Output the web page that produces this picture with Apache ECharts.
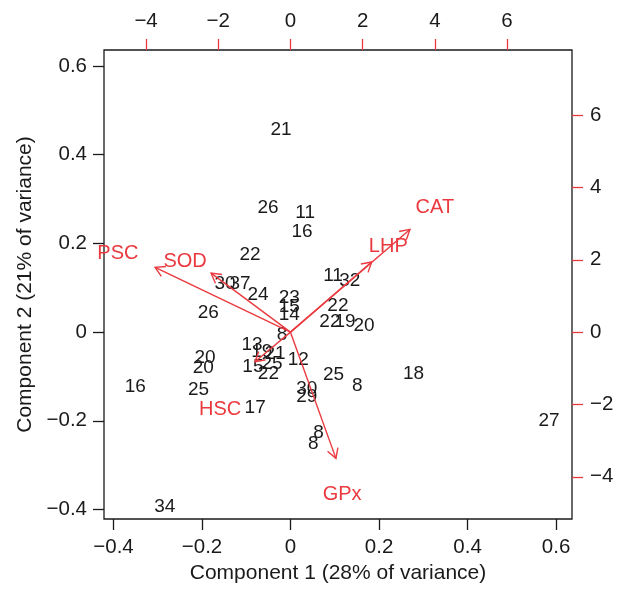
<!DOCTYPE html>
<html>
<head>
<meta charset="utf-8">
<script src="https://cdn.jsdelivr.net/npm/echarts@6/dist/echarts.min.js"></script>
<style>html,body{margin:0;padding:0;background:#fff;}#c{width:618px;height:593px;}</style>
</head>
<body>
<div id="c"></div>
<script>
// Observation scores (Component 1, Component 2)
const pointIds = ['21','26','11','16','22','30','37','24','23','15','14','8','26','11','32','22','22','19','20','13','19','21','15','25','22','12','25','8','18','30','29','17','8','8','27','20','20','16','25','34'];
const comp1 = [-0.0215,-0.051,0.033,0.026,-0.0915,-0.148,-0.114,-0.0734,-0.003,-0.003,-0.003,-0.019,-0.186,0.096,0.134,0.107,0.089,0.123,0.166,-0.087,-0.065,-0.035,-0.085,-0.042,-0.050,0.0176,0.097,0.151,0.278,0.0366,0.0366,-0.080,0.063,0.0516,0.584,-0.193,-0.197,-0.351,-0.208,-0.284];
const comp2 = [0.4555,0.280,0.268,0.2255,0.174,0.110,0.110,0.083,0.077,0.057,0.038,-0.005,0.043,0.127,0.116,0.059,0.023,0.023,0.0135,-0.029,-0.044,-0.048,-0.078,-0.071,-0.093,-0.063,-0.097,-0.122,-0.095,-0.127,-0.147,-0.170,-0.228,-0.251,-0.2007,-0.059,-0.0796,-0.123,-0.131,-0.394];
// Variable loadings (arrow tips, secondary axes) and label anchors
const varNames = ['PSC','SOD','LHP','CAT','HSC','GPx'];
const loadX = [-3.75,-2.2,2.25,3.31,-0.983,1.26];
const loadY = [1.79,1.63,1.94,2.84,-0.82,-3.49];
const labelX = [-4.78,-2.92,2.71,4.0,-1.95,1.43];
const labelY = [2.18,1.94,2.36,3.46,-2.13,-4.48];
// Tick values
const primaryTicks = [-0.4,-0.2,0,0.2,0.4,0.6];
const secondaryTicks = [-4,-2,0,2,4,6];

const RED = '#ea3a3f';
const INK = '#1a1a1a';
const FONT = 'Liberation Sans, Arial, Helvetica, sans-serif';
const fmt = v => (Math.abs(v) < 1e-9 ? '0' : String(v).replace('-', '\u2212'));

const chart = echarts.init(document.getElementById('c'), null, {renderer: 'canvas'});

function primaryAxis(pos, isX) {
  return {
    type: 'value', position: pos, min: -0.4215, max: 0.636,
    splitLine: {show: false},
    axisLine: {show: false, onZero: false},
    axisTick: {show: true, length: 11, inside: false, customValues: primaryTicks, lineStyle: {color: INK, width: 1.3}},
    axisLabel: {show: true, customValues: primaryTicks, formatter: fmt, color: INK, fontSize: 20.5, fontFamily: FONT, margin: isX ? 18 : 17},
    name: isX ? 'Component 1 (28% of variance)' : 'Component 2 (21% of variance)',
    nameLocation: 'middle', nameGap: isX ? 42 : 66,
    nameTextStyle: {color: INK, fontSize: 21, fontFamily: FONT}
  };
}
function secondaryAxis(pos) {
  return {
    type: 'value', position: pos, min: -5.166, max: 7.80,
    splitLine: {show: false},
    axisLine: {show: false, onZero: false},
    axisTick: {show: true, length: 11, inside: false, customValues: secondaryTicks, lineStyle: {color: RED, width: 1.3}},
    axisLabel: {show: true, customValues: secondaryTicks, formatter: fmt, color: INK, fontSize: 20.5, fontFamily: FONT, margin: 18}
  };
}

const option = {
  backgroundColor: '#fff',
  animation: false,
  grid: {left: 104, right: 46, top: 50, bottom: 74, show: true, borderColor: INK, borderWidth: 1.3, backgroundColor: 'transparent'},
  xAxis: [primaryAxis('bottom', true), secondaryAxis('top')],
  yAxis: [primaryAxis('left', false), secondaryAxis('right')],
  series: [
    {
      type: 'custom', xAxisIndex: 0, yAxisIndex: 0, clip: false,
      data: comp1.map((v, i) => [v, comp2[i]]),
      renderItem: function (params, api) {
        const p = api.coord([api.value(0), api.value(1)]);
        return {type: 'text', x: p[0], y: p[1], style: {text: pointIds[params.dataIndex], fill: INK, font: '19px ' + FONT, align: 'center', verticalAlign: 'middle'}};
      }
    },
    {
      type: 'custom', xAxisIndex: 1, yAxisIndex: 1, clip: false,
      data: loadX.map((v, i) => [v, loadY[i], labelX[i], labelY[i]]),
      renderItem: function (params, api) {
        const o = api.coord([0, 0]);
        const t = api.coord([api.value(0), api.value(1)]);
        const l = api.coord([api.value(2), api.value(3)]);
        const ang = Math.atan2(t[1] - o[1], t[0] - o[0]);
        const len = 11, a = Math.PI / 6;
        const h1 = [t[0] - len * Math.cos(ang - a), t[1] - len * Math.sin(ang - a)];
        const h2 = [t[0] - len * Math.cos(ang + a), t[1] - len * Math.sin(ang + a)];
        return {type: 'group', children: [
          {type: 'line', shape: {x1: o[0], y1: o[1], x2: t[0], y2: t[1]}, style: {stroke: RED, lineWidth: 1.4}},
          {type: 'polyline', shape: {points: [h1, t, h2]}, style: {stroke: RED, lineWidth: 1.4, fill: null}},
          {type: 'text', x: l[0], y: l[1], style: {text: varNames[params.dataIndex], fill: RED, font: '20px ' + FONT, align: 'center', verticalAlign: 'middle'}}
        ]};
      }
    }
  ]
};
chart.setOption(option);
</script>
</body>
</html>
